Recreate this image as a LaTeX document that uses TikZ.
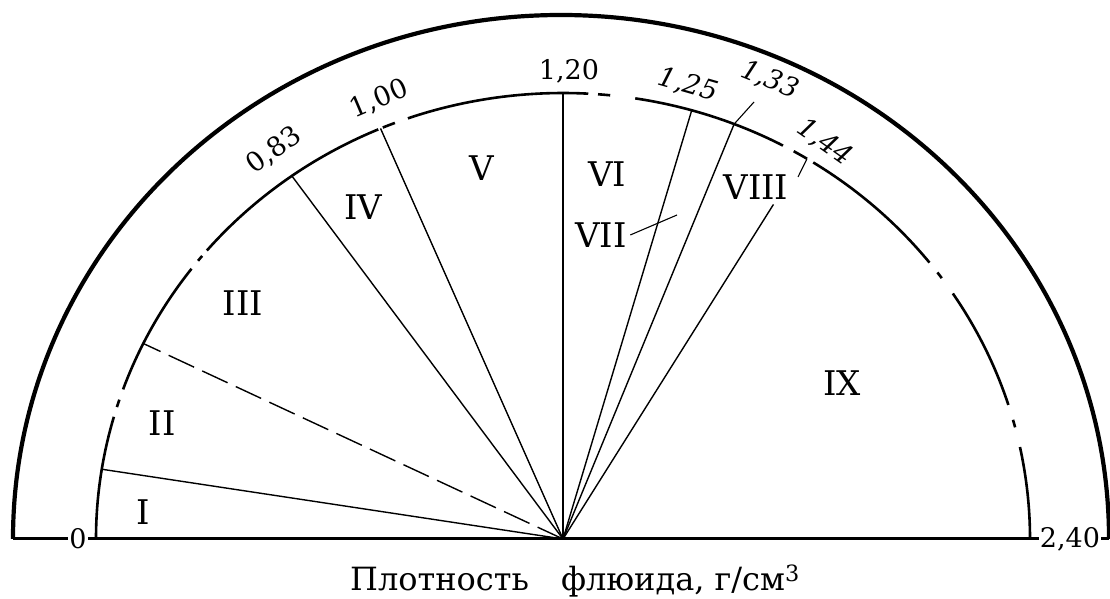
\documentclass[tikz,border=0pt]{standalone}
\usepackage{fontspec}
\setmainfont{DejaVu Serif}

\begin{document}
\begin{tikzpicture}[x=1pt, y=1pt,
    rim/.style={line width=4.2pt},
    base/.style={line width=3pt},
    gauge/.style={line width=2.6pt},
    ray/.style={line width=1.4pt},
    lead/.style={line width=1.1pt},
    zone/.style={font=\fontsize{34}{34}\selectfont},
    val/.style={font=\fontsize{27}{27}\selectfont, inner sep=1pt},
    slant/.style={val, font=\fontsize{27}{27}\selectfont\itshape},
]

\useasboundingbox (0,0) rectangle (1110,599);

% === Centre and ends of the base line ===
\coordinate (O) at (563,60);
\coordinate (L) at (13,60);
\coordinate (R) at (1109,60);

% === Outer rim and base line ===
\draw[rim] (L) arc[start angle=180, end angle=0, x radius=548, y radius=524];
\draw[base] (L) -- (R);

% === Inner scale, broken arc ===
\foreach \s/\e in {180/164.1, 162.8/161.8, 160.4/142.7, 141.4/140.6,
                   139.7/113.3, 112.7/111.1, 109.4/86.9, 85.7/84.2,
                   81.1/61.9, 60.4/58.5, 57.6/38.3, 36.7/35.8,
                   33.4/17.5, 15.5/14.5, 11.9/0}
  \draw[gauge] ([shift={(\s:467 and 446)}]O)
    arc[start angle=\s, end angle=\e, x radius=467, y radius=446];

% === Ray ends ===
\foreach \a/\n in {171/rI, 154/rII, 125.5/r083, 113/r100,
                   90/r120, 74/r125, 68.5/r133}
  \path (O) ++(\a:467 and 446) coordinate (\n);
\path (O) ++(59:408.6 and 390.3) coordinate (r144);
\path (O) ++(58.5:467 and 446) coordinate (a144);

% === Rays ===
\foreach \n in {rI, r083, r100, r120, r125, r133, r144}
  \draw[ray] (O) -- (\n);
\draw[ray, dash pattern=on 28pt off 9pt] (O) -- (rII);

% === Values on the scale ===
\node[val, fill=white]   (d0)   at (78,60)    {0};
\node[val, fill=white]   (d240) at (1070,60)  {2,40};
\node[val, rotate=36]    (d083) at (274,449)  {0,83};
\node[val, rotate=23]    (d100) at (379,500)  {1,00};
\node[val]               (d120) at (569,528)  {1,20};
\node[slant, rotate=-16] (d125) at (688,514)  {1,25};
\node[slant, rotate=-22] (d133) at (770,519)  {1,33};
\node[slant, rotate=-35] (d144) at (825,457)  {1,44};

% === Zones ===
\node[zone] (z1) at (143,87)  {I};
\node[zone] (z2) at (162,176) {II};
\node[zone] (z3) at (243,296) {III};
\node[zone] (z4) at (363,392) {IV};
\node[zone] (z5) at (482,431) {V};
\node[zone] (z6) at (607,425) {VI};
\node[zone] (z7) at (601,364) {VII};
\node[zone] (z8) at (756,412) {VIII};
\node[zone] (z9) at (842,216) {IX};

% === Leaders ===
\coordinate (t133) at (754,497);
\coordinate (t144) at (798,422);
\coordinate (t7)   at (677,384);
\draw[lead] (r133) -- (t133);
\draw[lead] (a144) -- (t144);
\draw[lead] (z7.east) -- (t7);

% === Caption ===
\node[font=\fontsize{32}{32}\selectfont, anchor=base] (cap) at (575,8)
  {Плотность\quad флюида, г/см\textsuperscript{3}};

\end{tikzpicture}
\end{document}
